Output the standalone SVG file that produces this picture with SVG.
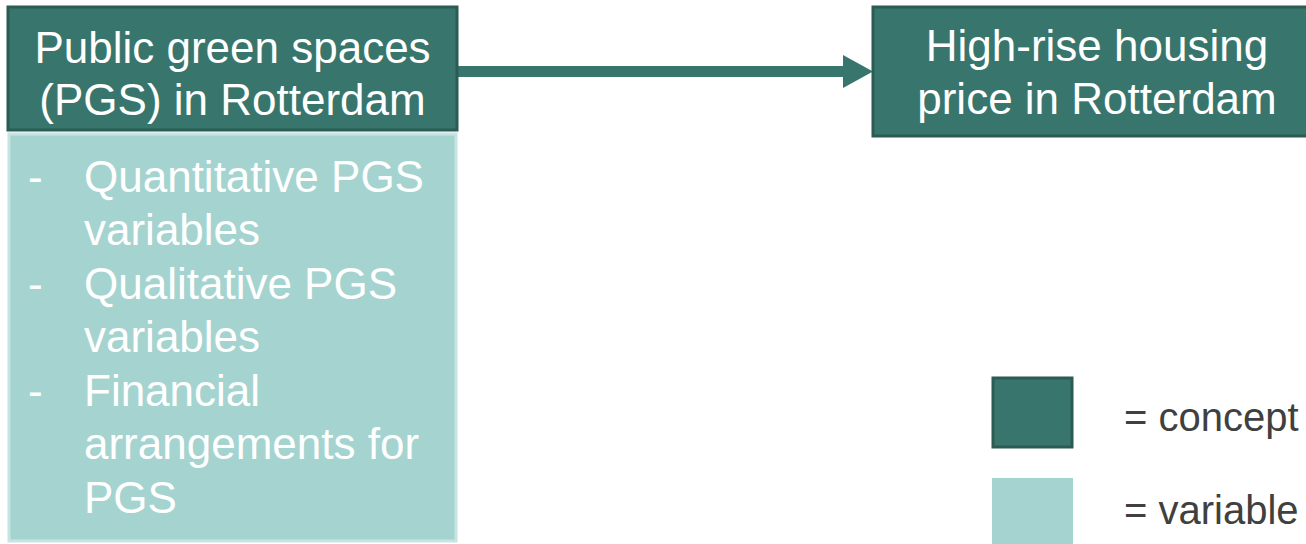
<svg xmlns="http://www.w3.org/2000/svg" width="1306" height="544" viewBox="0 0 1306 544">
  <style>
    .concept { fill: #38766d; stroke: #2b5b53; stroke-width: 3; }
    .variable { fill: #a5d4d0; stroke: #c6e5e2; stroke-width: 3; }
    .label { font-family: "Liberation Sans", Arial, sans-serif; font-size: 44px; fill: #ffffff; }
    .mid { text-anchor: middle; }
    .legend { font-family: "Liberation Sans", Arial, sans-serif; font-size: 40px; fill: #404040; }
  </style>

  <g id="connectors">
    <rect x="458" y="66" width="388" height="11" fill="#38766d"/>
    <polygon points="843,55 873,71.5 843,88" fill="#38766d"/>
  </g>

  <g id="node-pgs">
    <rect class="concept" x="8" y="7" width="449" height="123"/>
    <text class="label mid" x="232.5" y="63">Public green spaces</text>
    <text class="label mid" x="232.5" y="115">(PGS) in Rotterdam</text>
  </g>

  <g id="node-pgs-variables">
    <rect class="variable" x="9" y="134" width="447" height="407"/>
    <text class="label" x="28" y="191.5">-</text>
    <text class="label" x="84" y="191.5">Quantitative PGS</text>
    <text class="label" x="84" y="245">variables</text>
    <text class="label" x="28" y="298.5">-</text>
    <text class="label" x="84" y="298.5">Qualitative PGS</text>
    <text class="label" x="84" y="352">variables</text>
    <text class="label" x="28" y="405.5">-</text>
    <text class="label" x="84" y="405.5">Financial</text>
    <text class="label" x="84" y="459">arrangements for</text>
    <text class="label" x="84" y="512.5">PGS</text>
  </g>

  <g id="node-housing-price">
    <rect class="concept" x="873" y="7" width="450" height="129"/>
    <text class="label mid" x="1097" y="61">High-rise housing</text>
    <text class="label mid" x="1097" y="114">price in Rotterdam</text>
  </g>

  <g id="legend">
    <rect class="concept" x="993" y="378" width="79" height="69"/>
    <text class="legend" x="1124" y="431">= concept</text>
    <rect x="992" y="478" width="81" height="70" fill="#a5d4d0"/>
    <text class="legend" x="1124" y="524">= variable</text>
  </g>
</svg>
